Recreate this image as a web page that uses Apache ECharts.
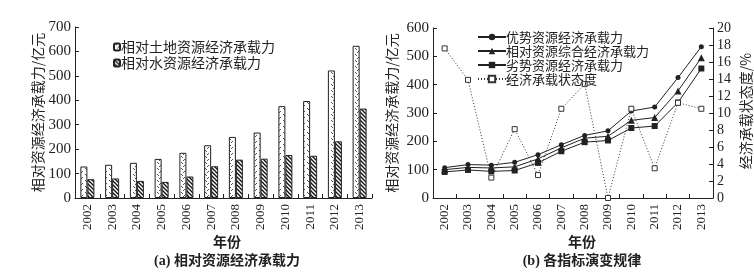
<!DOCTYPE html>
<html>
<head>
<meta charset="utf-8">
<script src="https://cdn.jsdelivr.net/npm/echarts@6/dist/echarts.min.js"></script>
</head>
<body style="margin:0;background:#fff">
<div id="main" style="width:754px;height:274px"></div>
<script>
var years = ['2002','2003','2004','2005','2006','2007','2008','2009','2010','2011','2012','2013'];
// (a) 相对资源经济承载力 / 亿元
var landCap = [129,136,144,160,185,216,250,268,376,397,522,623];
var waterCap = [77,80,70,66,88,130,157,161,176,173,232,366];
// (b) 各指标演变规律
var superiorCap = [107,118,116,126,153,188,221,237,307,321,425,534];
var relativeCap = [100,108,106,110,138,177,211,218,274,284,378,495];
var inferiorCap = [92,99,94,97,124,165,197,203,247,254,337,457];
var stateDegree = [17.6,13.9,2.4,8.1,2.7,10.5,13.4,0,10.5,3.5,11.2,10.5];

var serif = "'Liberation Serif','Noto Sans CJK SC'";
var cjk = "'Noto Sans CJK SC'";

function makePattern(kind) {
  var c = document.createElement('canvas');
  var ctx = c.getContext('2d');
  if (kind === 'dots') {
    c.width = 6; c.height = 6;
    ctx.fillStyle = '#fff'; ctx.fillRect(0, 0, 6, 6);
    ctx.fillStyle = '#555';
    ctx.fillRect(1, 0, 1, 1); ctx.fillRect(2, 1, 1, 1);
    ctx.fillRect(4, 3, 1, 1); ctx.fillRect(3, 4, 1, 1);
  } else {
    c.width = 4; c.height = 4;
    ctx.fillStyle = '#fff'; ctx.fillRect(0, 0, 4, 4);
    ctx.strokeStyle = '#111'; ctx.lineWidth = 1.3;
    ctx.beginPath(); ctx.moveTo(-1, -1); ctx.lineTo(5, 5); ctx.stroke();
    ctx.beginPath(); ctx.moveTo(3, -1); ctx.lineTo(5, 1); ctx.stroke();
    ctx.beginPath(); ctx.moveTo(-1, 3); ctx.lineTo(1, 5); ctx.stroke();
  }
  return { image: c, repeat: 'repeat' };
}

var axisLbl = { fontFamily: serif, fontSize: 15, color: '#222' };
var catLbl = { fontFamily: serif, fontSize: 13, color: '#222', rotate: 90, margin: 6 };
var blackLine = { lineStyle: { color: '#222', width: 1 } };
var tickIn = { show: true, inside: true, length: 4, lineStyle: { color: '#222' } };
var nameFont = { fontFamily: cjk, fontSize: 14, color: '#222' };

var chart = echarts.init(document.getElementById('main'));
chart.setOption({
  animation: false,
  backgroundColor: '#fff',
  textStyle: { fontFamily: cjk },
  title: [
    { text: '年份', left: 222, top: 230, textAlign: 'center',
      textStyle: { fontFamily: cjk, fontSize: 14, fontWeight: 'bold', color: '#222' } },
    { text: '(a) 相对资源经济承载力', left: 222, top: 249, textAlign: 'center',
      textStyle: { fontFamily: serif, fontSize: 14, fontWeight: 'bold', color: '#222' } },
    { text: '年份', left: 577, top: 230, textAlign: 'center',
      textStyle: { fontFamily: cjk, fontSize: 14, fontWeight: 'bold', color: '#222' } },
    { text: '(b) 各指标演变规律', left: 577, top: 249, textAlign: 'center',
      textStyle: { fontFamily: serif, fontSize: 14, fontWeight: 'bold', color: '#222' } }
  ],
  legend: [
    { orient: 'vertical', left: 108, top: 35, itemWidth: 6, itemHeight: 7, itemGap: 2,
      textStyle: { fontFamily: cjk, fontSize: 14, color: '#222', lineHeight: 14, padding: [0, 0, 0, -4] },
      data: ['相对土地资源经济承载力', '相对水资源经济承载力'] },
    { orient: 'vertical', left: 472, top: 25, itemWidth: 28, itemHeight: 8, itemGap: 0,
      textStyle: { fontFamily: cjk, fontSize: 13, color: '#222', lineHeight: 14, padding: [0, 0, 0, -5] },
      data: ['优势资源经济承载力', '相对资源综合经济承载力', '劣势资源经济承载力', '经济承载状态度'] }
  ],
  grid: [
    { left: 75, top: 27, width: 297, height: 171 },
    { left: 433, top: 28, width: 281, height: 170 }
  ],
  xAxis: [
    { type: 'category', gridIndex: 0, data: years, boundaryGap: true,
      axisLine: blackLine, axisTick: tickIn, axisLabel: catLbl },
    { type: 'category', gridIndex: 1, data: years, boundaryGap: true,
      axisLine: blackLine, axisTick: tickIn, axisLabel: catLbl }
  ],
  yAxis: [
    { type: 'value', gridIndex: 0, min: 0, max: 700, interval: 100,
      name: '相对资源经济承载力/亿元', nameLocation: 'middle', nameGap: 29, nameRotate: 90,
      nameTextStyle: nameFont,
      axisLine: { show: true, lineStyle: { color: '#222' } }, axisTick: tickIn,
      splitLine: { show: false }, axisLabel: Object.assign({ margin: 4 }, axisLbl) },
    { type: 'value', gridIndex: 1, min: 0, max: 600, interval: 100, position: 'left',
      name: '相对资源经济承载力/亿元', nameLocation: 'middle', nameGap: 34, nameRotate: 90,
      nameTextStyle: nameFont,
      axisLine: { show: true, lineStyle: { color: '#222' } }, axisTick: tickIn,
      splitLine: { show: false }, axisLabel: Object.assign({ margin: 4 }, axisLbl) },
    { type: 'value', gridIndex: 1, min: 0, max: 20, interval: 2, position: 'right',
      name: '经济承载状态度/%', nameLocation: 'middle', nameGap: 26, nameRotate: 90,
      nameTextStyle: Object.assign({ padding: [0, 0, 0, 4] }, nameFont),
      axisLine: { show: true, lineStyle: { color: '#222' } }, axisTick: tickIn,
      splitLine: { show: false },
      axisLabel: { fontFamily: serif, fontSize: 14, color: '#222', margin: 4 } }
  ],
  series: [
    { name: '相对土地资源经济承载力', type: 'bar', xAxisIndex: 0, yAxisIndex: 0,
      data: landCap, barWidth: 7, barGap: '0%',
      itemStyle: { color: makePattern('dots'), borderColor: '#222', borderWidth: 1 } },
    { name: '相对水资源经济承载力', type: 'bar', xAxisIndex: 0, yAxisIndex: 0,
      data: waterCap, barWidth: 7, barGap: '0%',
      itemStyle: { color: makePattern('hatch'), borderColor: '#222', borderWidth: 1 } },
    { name: '优势资源经济承载力', type: 'line', xAxisIndex: 1, yAxisIndex: 1,
      data: superiorCap, symbol: 'circle', symbolSize: 5,
      lineStyle: { color: '#222', width: 1 }, itemStyle: { color: '#222' } },
    { name: '相对资源综合经济承载力', type: 'line', xAxisIndex: 1, yAxisIndex: 1,
      data: relativeCap, symbol: 'triangle', symbolSize: 7,
      lineStyle: { color: '#222', width: 1 }, itemStyle: { color: '#222' } },
    { name: '劣势资源经济承载力', type: 'line', xAxisIndex: 1, yAxisIndex: 1,
      data: inferiorCap, symbol: 'rect', symbolSize: 6,
      lineStyle: { color: '#222', width: 1 }, itemStyle: { color: '#222' } },
    { name: '经济承载状态度', type: 'line', xAxisIndex: 1, yAxisIndex: 2,
      data: stateDegree, symbol: 'rect', symbolSize: 5, showAllSymbol: true,
      lineStyle: { color: '#333', width: 1, type: [1, 2] },
      itemStyle: { color: '#fff', borderColor: '#333', borderWidth: 1 } }
  ]
});
</script>
</body>
</html>
